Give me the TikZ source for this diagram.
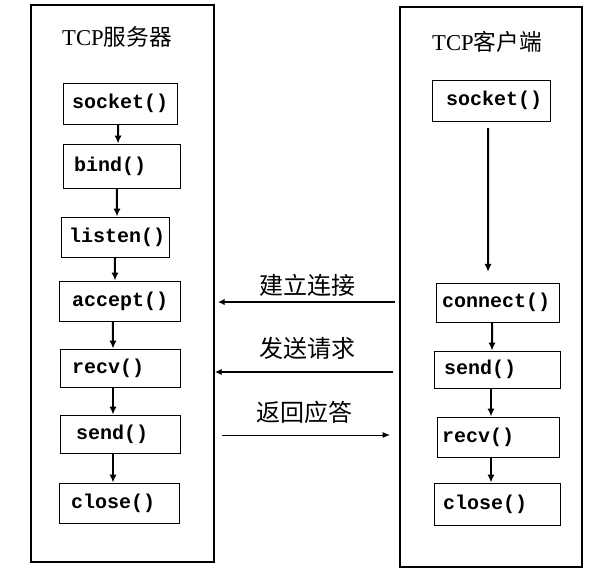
\documentclass[tikz,border=0pt]{standalone}
\usepackage{fontspec}
\setmainfont{Liberation Serif}
\newfontfamily\cjk{Noto Sans CJK SC}
\newfontfamily\codefont{Liberation Mono}
\usetikzlibrary{arrows.meta}
\begin{document}
\begin{tikzpicture}[x=0.75pt,y=-0.75pt,
  frame/.style={draw, line width=0.8pt, inner sep=0pt},
  bx/.style n args={3}{draw, line width=0.75pt, inner xsep=#3, inner ysep=0pt, align=left,
     text width=#1, minimum height=#2, font=\codefont\bfseries\fontsize{15}{17}\selectfont},
  title/.style={font=\fontsize{17}{20}\selectfont},
  lbl/.style={font=\cjk\fontsize{18}{21}\selectfont},
  flow/.style={line width=1.5pt, -{Latex[length=6pt,width=5.5pt]}},
  msg/.style={line width=1.5pt, -{Latex[length=5pt,width=5pt]}},
  msgthin/.style={line width=0.75pt, -{Latex[length=5.5pt,width=4.5pt]}}
]
\useasboundingbox (0,0) rectangle (610,579);
\fill[white] (0,0) rectangle (610,579);

% containers
\node[frame, minimum width=137.25pt, minimum height=417.75pt] (srv) at (122.5,283.5) {};
\node[frame, minimum width=136.5pt, minimum height=420pt] (cli) at (491,287) {};

\node[title] (srvT) at (117,37) {TCP{\cjk 服务器}};
\node[title] (cliT) at (487,42) {TCP{\cjk 客户端}};

% server boxes
\node[bx={72pt}{30.75pt}{6.75pt}] (sL) at (120,103.5) {\mbox{socket()}};
\node[bx={71.25pt}{33pt}{8.25pt}] (bL) at (121.5,166) {\mbox{bind()}};
\node[bx={69pt}{30pt}{6pt}] (lL) at (115,237) {\mbox{listen()}};
\node[bx={71.25pt}{30pt}{9.75pt}] (aL) at (119.5,301) {\mbox{accept()}};
\node[bx={72pt}{28.5pt}{9pt}] (rL) at (120,368) {\mbox{recv()}};
\node[bx={66pt}{28.5pt}{12pt}] (sdL) at (120,434) {\mbox{send()}};
\node[bx={72pt}{30pt}{9pt}] (cL) at (119,503) {\mbox{close()}};

% client boxes
\node[bx={67.5pt}{30.75pt}{10.5pt}] (sR) at (491,100.5) {\mbox{socket()}};
\node[bx={83.25pt}{29.25pt}{4.5pt}] (cnR) at (497.5,302.5) {\mbox{connect()}};
\node[bx={79.5pt}{27.75pt}{7.5pt}] (sdR) at (497,369.5) {\mbox{send()}};
\node[bx={84pt}{30pt}{3.75pt}] (rcR) at (498,437) {\mbox{recv()}};
\node[bx={81pt}{31.5pt}{6.75pt}] (clR) at (497,504) {\mbox{close()}};

% server flow
\draw[flow] ([xshift=-1.5pt]sL.south) -- ([xshift=-2.6pt]bL.north);
\draw[flow] ([xshift=-3.4pt]bL.south) -- ([xshift=1.5pt]lL.north);
\draw[flow] (lL.south) -- ([xshift=-3.4pt]aL.north);
\draw[flow] ([xshift=-4.9pt]aL.south) -- ([xshift=-5.25pt]rL.north);
\draw[flow] ([xshift=-5.25pt]rL.south) -- ([xshift=-5.25pt]sdL.north);
\draw[flow] ([xshift=-5.25pt]sdL.south) -- ([xshift=-4.5pt]cL.north);

% client flow
\draw[flow, shorten <=5pt, shorten >=8pt] ([xshift=-2.25pt]sR.south) -- ([xshift=-7.1pt]cnR.north);
\draw[flow] ([xshift=-4.1pt]cnR.south) -- ([xshift=-3.75pt]sdR.north);
\draw[flow] ([xshift=-4.5pt]sdR.south) -- ([xshift=-5.25pt]rcR.north);
\draw[flow] ([xshift=-5.25pt]rcR.south) -- ([xshift=-4.5pt]clR.north);

% messages
\coordinate (m1a) at (395,302);
\coordinate (m1b) at (218,302);
\coordinate (m2a) at (393,372);
\coordinate (m2b) at (215,372);
\coordinate (m3a) at (222,435);
\coordinate (m3b) at (390,435);
\node[lbl] (l1) at (307,285) {建立连接};
\node[lbl] (l2) at (307,348) {发送请求};
\node[lbl] (l3) at (304,412) {返回应答};
\draw[msg] (m1a) -- (m1b);
\draw[msg] (m2a) -- (m2b);
\draw[msgthin] (m3a) -- (m3b);
\end{tikzpicture}
\end{document}
